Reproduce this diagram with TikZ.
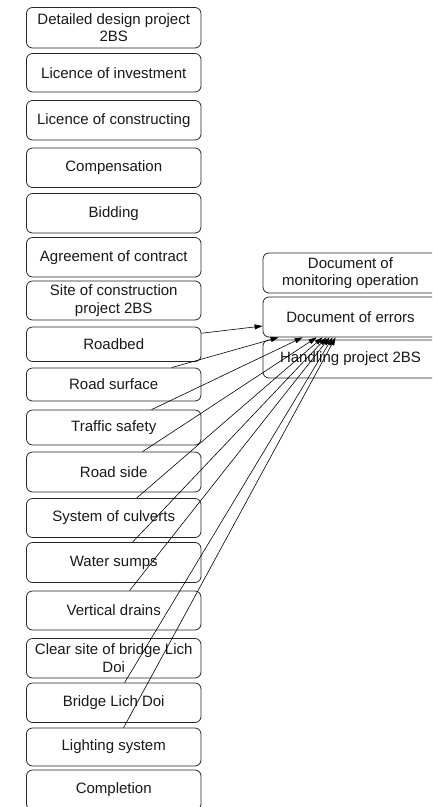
\documentclass[tikz,border=0pt]{standalone}
\usepackage{fontspec}
\setmainfont{Liberation Sans}
\usetikzlibrary{arrows.meta}
\begin{document}
\begin{tikzpicture}[x=1pt,y=-1pt,
  box/.style={draw=black!85, line width=0.8pt, rounded corners=6pt, fill=white,
    minimum width=174.5pt, inner sep=0pt, align=center,
    font=\fontsize{15pt}{17.5pt}\selectfont, text=black!90},
  rbox/.style={box, minimum width=175pt},
  conn/.style={draw=black, line width=0.6pt, -{Triangle[length=8pt,width=5pt]}}]
\clip (0,0) rectangle (432,807);
\fill[white] (0,0) rectangle (432,807);
\node[box, minimum height=40.5pt] (design) at (113.75,27.75) {Detailed design project\\2BS};
\node[box, minimum height=38.5pt] (invest) at (113.75,72.75) {Licence of investment};
\node[box, minimum height=39.5pt] (constr) at (113.75,120.25) {Licence of constructing};
\node[box, minimum height=39.5pt] (comp) at (113.75,167.75) {Compensation};
\node[box, minimum height=39.5pt] (bid) at (113.75,213.25) {Bidding};
\node[box, minimum height=39.5pt] (agree) at (113.75,257.25) {Agreement of contract};
\node[box, minimum height=39pt] (site) at (113.75,300.5) {Site of construction\\project 2BS};
\node[box, minimum height=34.5pt] (roadbed) at (113.75,344.25) {Roadbed};
\node[box, minimum height=33pt] (surface) at (113.75,384.5) {Road surface};
\node[box, minimum height=35pt] (traffic) at (113.75,427.5) {Traffic safety};
\node[box, minimum height=40pt] (side) at (113.75,472) {Road side};
\node[box, minimum height=39pt] (culverts) at (113.75,518) {System of culverts};
\node[box, minimum height=40pt] (sumps) at (113.75,562.5) {Water sumps};
\node[box, minimum height=39pt] (drains) at (113.75,610.5) {Vertical drains};
\node[box, minimum height=39.5pt] (clear) at (113.75,658.25) {Clear site of bridge Lich\\Doi};
\node[box, minimum height=39.5pt] (bridge) at (113.75,702.75) {Bridge Lich Doi};
\node[box, minimum height=38pt] (light) at (113.75,747) {Lighting system};
\node[box, minimum height=40pt] (done) at (113.75,790) {Completion};
\node[rbox, minimum height=40pt] (monitor) at (350.5,273) {Document of\\monitoring operation};
\node[rbox, minimum height=40pt] (errors) at (350.5,317) {Document of errors};
\node[rbox, minimum height=38pt] (handle) at (350.5,359) {Handling project 2BS};
\draw[conn] ([yshift=11pt]roadbed.east) -- ([yshift=-9pt]errors.west);
\draw[conn] ([xshift=145.5pt]surface.north west) -- ([xshift=16pt]errors.south west);
\draw[conn] ([xshift=125.5pt]traffic.north west) -- ([xshift=40pt]errors.south west);
\draw[conn] ([xshift=116.5pt]side.north west) -- ([xshift=54pt]errors.south west);
\draw[conn] ([xshift=110.5pt]culverts.north west) -- ([xshift=60pt]errors.south west);
\draw[conn] ([xshift=106.5pt]sumps.north west) -- ([xshift=64pt]errors.south west);
\draw[conn] ([xshift=103.5pt]drains.north west) -- ([xshift=67pt]errors.south west);
\draw[conn] ([xshift=98.5pt]bridge.north west) -- ([xshift=70pt]errors.south west);
\draw[conn] ([xshift=97.5pt]light.north west) -- ([xshift=73pt]errors.south west);
\end{tikzpicture}
\end{document}
